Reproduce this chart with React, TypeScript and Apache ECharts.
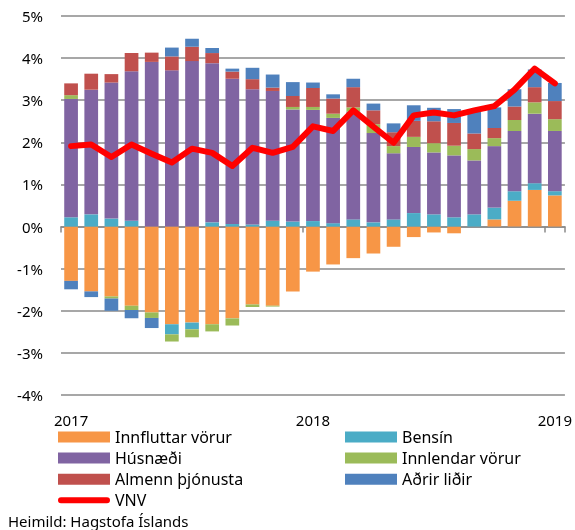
import React, { useEffect, useRef } from 'react';
import * as echarts from 'echarts';

const months = [
  '2017-01', '2017-02', '2017-03', '2017-04', '2017-05', '2017-06', '2017-07', '2017-08', '2017-09', '2017-10', '2017-11', '2017-12',
  '2018-01', '2018-02', '2018-03', '2018-04', '2018-05', '2018-06', '2018-07', '2018-08', '2018-09', '2018-10', '2018-11', '2018-12',
  '2019-01',
];

const innfluttar = [-1.29, -1.54, -1.66, -1.88, -2.04, -2.32, -2.28, -2.32, -2.18, -1.85, -1.88, -1.54, -1.07, -0.90, -0.75, -0.64, -0.48, -0.25, -0.14, -0.16, 0, 0.17, 0.61, 0.87, 0.74];
const bensin = [0.22, 0.29, 0.19, 0.14, 0, -0.24, -0.16, 0.10, 0.06, 0.05, 0.14, 0.12, 0.13, 0.08, 0.17, 0.10, 0.17, 0.32, 0.29, 0.22, 0.29, 0.28, 0.23, 0.16, 0.10];
const husnaedi = [2.81, 2.96, 3.23, 3.55, 3.91, 3.71, 3.93, 3.78, 3.45, 3.21, 3.08, 2.66, 2.64, 2.50, 2.56, 2.12, 1.57, 1.57, 1.47, 1.47, 1.28, 1.46, 1.43, 1.65, 1.43];
const innlendar = [0.09, 0, -0.05, -0.10, -0.13, -0.17, -0.19, -0.17, -0.17, -0.06, -0.02, 0.06, 0.07, 0.10, 0.10, 0.21, 0.17, 0.24, 0.22, 0.23, 0.27, 0.19, 0.26, 0.27, 0.28];
const almenn = [0.28, 0.38, 0.20, 0.43, 0.22, 0.33, 0.34, 0.24, 0.17, 0.24, 0.08, 0.26, 0.45, 0.36, 0.48, 0.33, 0.33, 0.38, 0.52, 0.54, 0.37, 0.24, 0.32, 0.36, 0.43];
const adrir = [-0.20, -0.135, -0.29, -0.20, -0.24, 0.21, 0.19, 0.12, 0.07, 0.27, 0.31, 0.33, 0.13, 0.10, 0.20, 0.16, 0.21, 0.37, 0.32, 0.33, 0.51, 0.49, 0.41, 0.42, 0.43];
const vnv = [1.91, 1.95, 1.65, 1.95, 1.73, 1.52, 1.85, 1.75, 1.44, 1.87, 1.75, 1.89, 2.38, 2.27, 2.76, 2.37, 1.99, 2.64, 2.71, 2.64, 2.76, 2.86, 3.25, 3.75, 3.40];

const barSeries = [
  { name: 'Innfluttar vörur', data: innfluttar, color: '#F79646' },
  { name: 'Bensín', data: bensin, color: '#4BACC6' },
  { name: 'Húsnæði', data: husnaedi, color: '#8064A2' },
  { name: 'Innlendar vörur', data: innlendar, color: '#9BBB59' },
  { name: 'Almenn þjónusta', data: almenn, color: '#C0504D' },
  { name: 'Aðrir liðir', data: adrir, color: '#4F81BD' },
];

const FONT = 'Noto Sans';
const GRID_COLOR = '#8a8a8a';
const VNV_ICON = 'path://M0,0 L0.01,0 Z M3,2.5 L49,2.5 A3,3 0 0 1 49,8.5 L3,8.5 A3,3 0 0 1 3,2.5 Z M0,11 L0.01,11 Z';

export default function App() {
  const ref = useRef<HTMLDivElement>(null);
  useEffect(() => {
    if (!ref.current) return;
    const chart = echarts.init(ref.current, null, { renderer: 'svg' });
    const legendText = { fontFamily: FONT, fontSize: 16, color: '#000', lineHeight: 16 };
    chart.setOption({
      animation: false,
      textStyle: { fontFamily: FONT },
      grid: { left: 61, right: 10, top: 16, bottom: 135, containLabel: false },
      xAxis: [
        {
          type: 'category',
          data: months,
          axisLine: { show: true, onZero: true, lineStyle: { color: GRID_COLOR, width: 1.5 } },
          axisTick: { show: true, interval: (i: number) => i % 12 === 0, length: 6, lineStyle: { color: GRID_COLOR, width: 1.5 } },
          axisLabel: { show: false },
          splitLine: { show: false },
        },
        {
          type: 'category',
          data: months,
          position: 'bottom',
          axisLine: { show: false, onZero: false },
          axisTick: { show: false },
          axisLabel: {
            show: true,
            interval: (i: number) => i % 12 === 0,
            formatter: (v: string) => v.slice(0, 4),
            fontFamily: FONT,
            fontSize: 15,
            color: '#000',
            margin: 17,
          },
        },
      ],
      yAxis: {
        type: 'value',
        min: -4,
        max: 5,
        interval: 1,
        axisLine: { show: false },
        axisTick: { show: false },
        axisLabel: { formatter: (v: number) => `${v}%`, fontFamily: FONT, fontSize: 15, color: '#000', margin: 18 },
        splitLine: { show: true, lineStyle: { color: GRID_COLOR, width: 1.5 } },
      },
      legend: [
        {
          left: 58,
          top: 429,
          orient: 'vertical',
          padding: 0,
          itemWidth: 52,
          itemHeight: 11,
          itemGap: 5.1,
          icon: 'rect',
          itemStyle: { borderWidth: 0 },
          textStyle: legendText,
          data: ['Innfluttar vörur', 'Húsnæði', 'Almenn þjónusta', { name: 'VNV', icon: VNV_ICON }],
        },
        {
          left: 345,
          top: 429,
          orient: 'vertical',
          padding: 0,
          itemWidth: 52,
          itemHeight: 11,
          itemGap: 5.1,
          icon: 'rect',
          itemStyle: { borderWidth: 0 },
          textStyle: legendText,
          data: ['Bensín', 'Innlendar vörur', 'Aðrir liðir'],
        },
      ],
      graphic: [
        {
          type: 'text',
          x: 8,
          y: 521,
          style: {
            text: 'Heimild: Hagstofa Íslands',
            fontFamily: FONT,
            fontSize: 15,
            fill: '#000',
            verticalAlign: 'middle',
            textVerticalAlign: 'middle',
          },
        },
      ],
      series: [
        ...barSeries.map((s) => ({
          name: s.name,
          type: 'bar',
          stack: 'total',
          data: s.data,
          barCategoryGap: '32%',
          itemStyle: { color: s.color },
        })),
        {
          name: 'VNV',
          type: 'line',
          data: vnv,
          symbol: 'none',
          z: 10,
          color: '#FF0000',
          itemStyle: { color: '#FF0000' },
          lineStyle: { color: '#FF0000', width: 6, cap: 'round', join: 'round' },
        },
      ],
    });
    return () => chart.dispose();
  }, []);
  return <div ref={ref} style={{ position: 'fixed', left: 0, top: 0, width: 575, height: 530 }} />;
}
